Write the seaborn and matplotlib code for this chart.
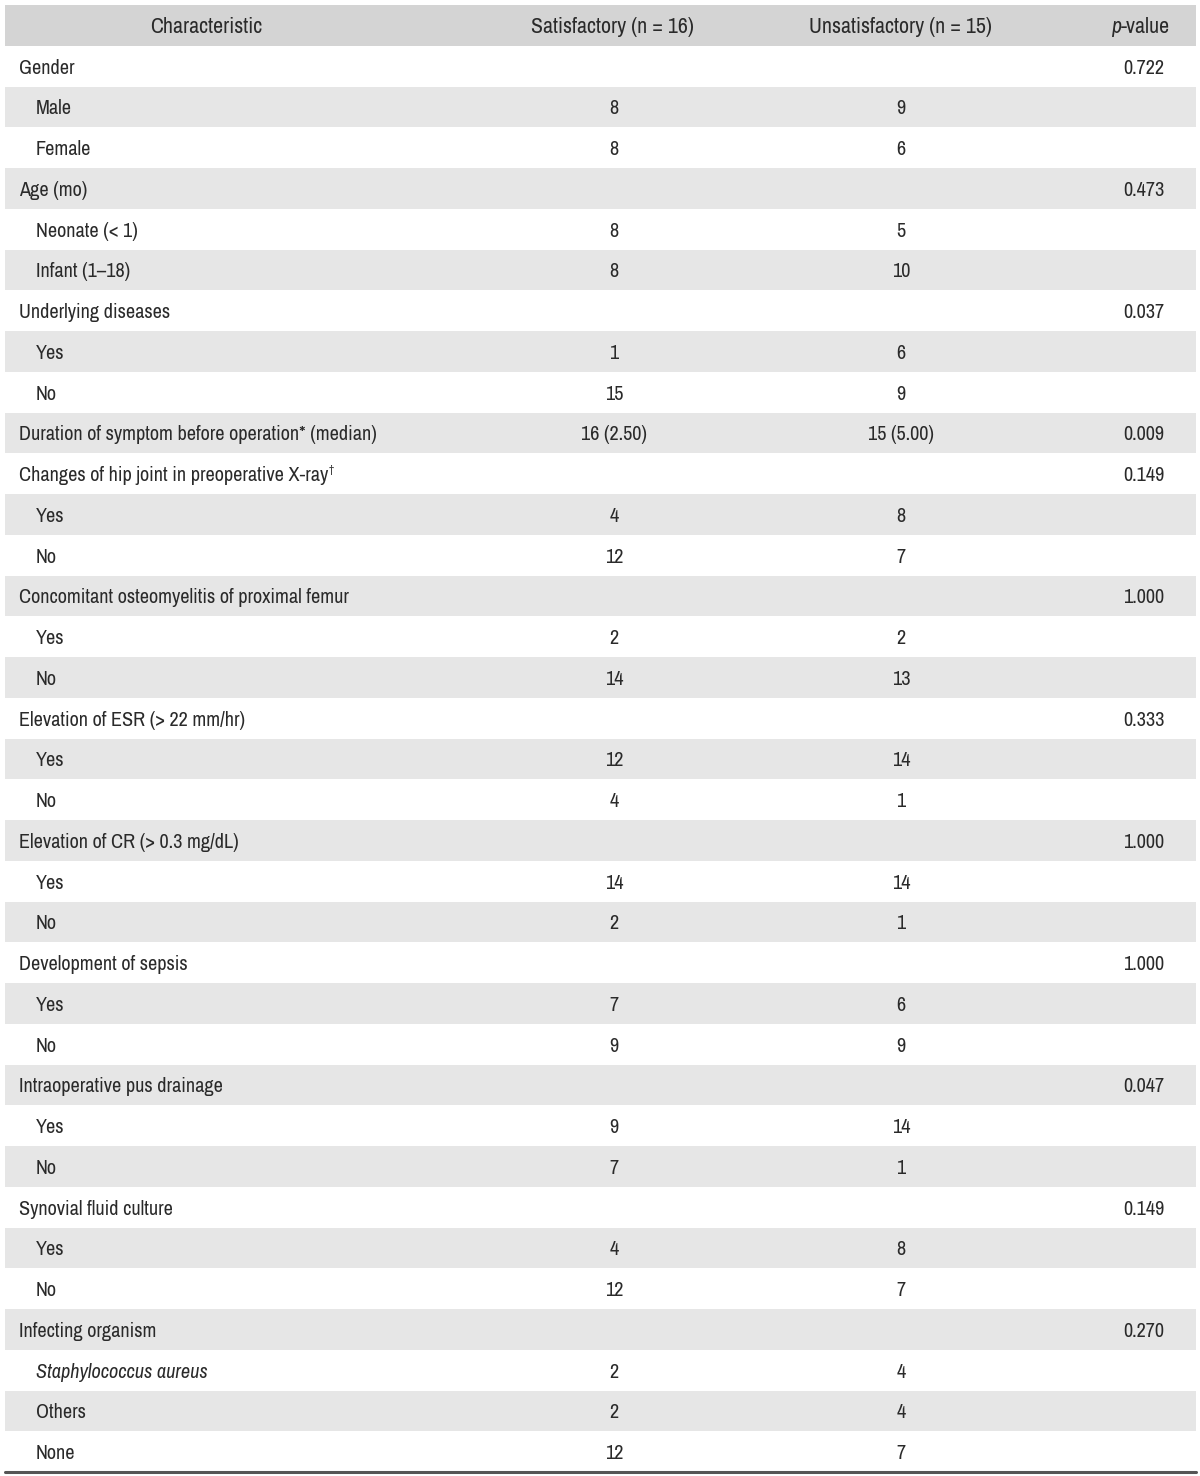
import matplotlib
matplotlib.use("Agg")
import matplotlib.pyplot as plt
import matplotlib.transforms as mtransforms
from matplotlib.colors import ListedColormap
import seaborn as sns
import numpy as np

# table content
headers = ["Characteristic", "Satisfactory (n = 16)", "Unsatisfactory (n = 15)", "-value"]

labels = [
    "Gender", "Male", "Female",
    "Age (mo)", "Neonate (< 1)", "Infant (1\u201318)",
    "Underlying diseases", "Yes", "No",
    "Duration of symptom before operation* (median)",
    "Changes of hip joint in preoperative X-ray", "Yes", "No",
    "Concomitant osteomyelitis of proximal femur", "Yes", "No",
    "Elevation of ESR (> 22 mm/hr)", "Yes", "No",
    "Elevation of CR (> 0.3 mg/dL)", "Yes", "No",
    "Development of sepsis", "Yes", "No",
    "Intraoperative pus drainage", "Yes", "No",
    "Synovial fluid culture", "Yes", "No",
    "Infecting organism", "Staphylococcus aureus", "Others", "None",
]
indent = [0, 1, 1, 0, 1, 1, 0, 1, 1, 0, 0, 1, 1, 0, 1, 1, 0, 1, 1,
          0, 1, 1, 0, 1, 1, 0, 1, 1, 0, 1, 1, 0, 1, 1, 1]
satisfactory = ["", "8", "8", "", "8", "8", "", "1", "15", "16 (2.50)",
                "", "4", "12", "", "2", "14", "", "12", "4", "", "14", "2",
                "", "7", "9", "", "9", "7", "", "4", "12", "", "2", "2", "12"]
unsatisfactory = ["", "9", "6", "", "5", "10", "", "6", "9", "15 (5.00)",
                  "", "8", "7", "", "2", "13", "", "14", "1", "", "14", "1",
                  "", "6", "9", "", "14", "1", "", "8", "7", "", "4", "4", "7"]
pvalues = ["0.722", "", "", "0.473", "", "", "0.037", "", "", "0.009",
           "0.149", "", "", "1.000", "", "", "0.333", "", "", "1.000", "", "",
           "1.000", "", "", "0.047", "", "", "0.149", "", "", "0.270", "", "", ""]
italic_rows = ["Staphylococcus aureus"]
dagger_rows = ["Changes of hip joint in preoperative X-ray"]

sns.set_theme(style="white")
plt.rcParams['font.family'] = ['Archivo Narrow', 'DejaVu Sans']
plt.rcParams['font.stretch'] = 'condensed'

W, H = 1200, 1476
left, right, top, bottom = 5, 1196, 5, 1472
fig = plt.figure(figsize=(W / 100, H / 100), dpi=100)
ax = fig.add_axes([left / W, 1 - bottom / H, (right - left) / W, (bottom - top) / H])

# row shading: header, then alternating white / grey
shade = np.array([2] + [i % 2 for i in range(len(labels))]).reshape(-1, 1)
sns.heatmap(shade, cmap=ListedColormap(["white", "#e6e6e6", "#d4d4d4"]),
            vmin=-0.5, vmax=2.5, cbar=False, ax=ax,
            xticklabels=False, yticklabels=False)
for s in ax.spines.values():
    s.set_visible(False)
ax.axhline(len(labels) + 1, color="#555555", lw=2.2, clip_on=False)

trans = mtransforms.blended_transform_factory(ax.transAxes, ax.transData)


def fx(px):
    return (px - left) / (right - left)


fs = 14.6
hfs = 15.8
col = "#2a2a2a"
kw = dict(transform=trans, color=col, va="center_baseline")

# header
ax.text(fx(206), 0.5, headers[0], ha="center", fontsize=hfs, **kw)
ax.text(fx(612), 0.5, headers[1], ha="center", fontsize=hfs, **kw)
ax.text(fx(900), 0.5, headers[2], ha="center", fontsize=hfs, **kw)
vt = ax.text(fx(1121), 0.5, headers[3], ha="left", fontsize=hfs, **kw)
ax.annotate("p", xy=(0, 0.5), xycoords=(vt, trans), ha="right",
            va="center_baseline", fontsize=hfs, color=col, style="italic")

# body
for i, lab in enumerate(labels):
    y = i + 1.5
    x0 = 36 if indent[i] else 19
    t = ax.text(fx(x0), y, lab, ha="left", fontsize=fs,
                style="italic" if lab in italic_rows else "normal", **kw)
    if lab in dagger_rows:
        ax.annotate("\u2020", xy=(1, 1), xycoords=t, xytext=(0.5, 0.5),
                    textcoords="offset points", ha="left", va="top",
                    fontsize=8, color=col)
    ax.text(fx(614), y, satisfactory[i], ha="center", fontsize=fs, **kw)
    ax.text(fx(901), y, unsatisfactory[i], ha="center", fontsize=fs, **kw)
    ax.text(fx(1144), y, pvalues[i], ha="center", fontsize=fs, **kw)

fig.savefig("out.png", dpi=100)
